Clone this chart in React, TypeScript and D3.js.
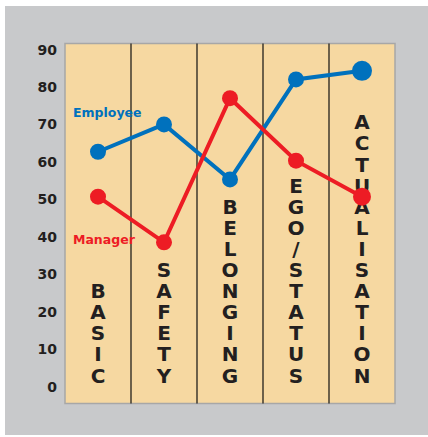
import React from "react";
import * as d3 from "d3";

const categories = ["BASIC", "SAFETY", "BELONGING", "EGO/STATUS", "ACTUALISATION"];
const employee = [62.7, 70, 55.3, 82, 84.3];
const manager = [50.7, 38.5, 77, 60.3, 50.7];
const yTicks = [0, 10, 20, 30, 40, 50, 60, 70, 80, 90];
const seriesNames = ["Employee", "Manager"];

const W = 428;
const H = 437;
const plot = { left: 65, right: 395, top: 43.5, bottom: 403.5 };
const BLUE = "#0071BD";
const RED = "#ED1C24";
const TEXT = "#231F20";
const FONT = "'DejaVu Sans', Verdana, sans-serif";

export default function App() {
  const x = d3.scaleBand<string>().domain(categories).range([plot.left, plot.right]).padding(0);
  const y = d3.scaleLinear().domain([0, 90]).range([386.5, 49.5]);
  const cx = (c: string) => (x(c) as number) + x.bandwidth() / 2;
  const line = d3
    .line<number>()
    .x((_, i) => cx(categories[i]))
    .y((d) => y(d));

  const letterStep = 21.1;
  const letterBaseline = 382.5;

  const series = [
    { name: seriesNames[0], values: employee, color: BLUE, lastR: 10 },
    { name: seriesNames[1], values: manager, color: RED, lastR: 9 },
  ];

  return (
    <div style={{ position: "absolute", left: 0, top: 0 }}>
      <svg width={W} height={H} style={{ display: "block" }}>
        <rect x={0} y={0} width={W} height={H} fill="#ffffff" />
        <rect x={5} y={6} width={W - 5} height={H - 8} fill="#C8C9CB" />
        <rect
          x={plot.left}
          y={plot.top}
          width={plot.right - plot.left}
          height={plot.bottom - plot.top}
          fill="#F6D8A1"
          stroke="#A7A7A7"
          strokeWidth={1.5}
        />
        {categories.slice(1).map((c) => (
          <line
            key={c}
            x1={x(c)}
            x2={x(c)}
            y1={plot.top}
            y2={plot.bottom}
            stroke="#111"
            strokeWidth={1.2}
          />
        ))}
        {yTicks.map((t) => (
          <text
            key={t}
            x={57}
            y={y(t)}
            textAnchor="end"
            dominantBaseline="central"
            fontFamily={FONT}
            fontWeight="bold"
            fontSize={14}
            fill={TEXT}
          >
            {t}
          </text>
        ))}
        {categories.map((c) => {
          const letters = c.split("");
          const n = letters.length;
          return (
            <g key={c}>
              {letters.map((L, i) => (
                <text
                  key={i}
                  x={cx(c)}
                  y={letterBaseline - (n - 1 - i) * letterStep}
                  textAnchor="middle"
                  fontFamily={FONT}
                  fontWeight="bold"
                  fontSize={20}
                  fill={TEXT}
                >
                  {L}
                </text>
              ))}
            </g>
          );
        })}
        {series.map((s) => (
          <g key={s.name}>
            <path d={line(s.values) || ""} fill="none" stroke={s.color} strokeWidth={4} />
            {s.values.map((v, i) => (
              <circle
                key={i}
                cx={cx(categories[i])}
                cy={y(v)}
                r={i === s.values.length - 1 ? s.lastR : 8}
                fill={s.color}
              />
            ))}
          </g>
        ))}
        <text x={73} y={116.5} fontFamily={FONT} fontWeight="bold" fontSize={12.5} fill={BLUE}>
          {seriesNames[0]}
        </text>
        <text x={73} y={244} fontFamily={FONT} fontWeight="bold" fontSize={12.5} fill={RED}>
          {seriesNames[1]}
        </text>
      </svg>
    </div>
  );
}
